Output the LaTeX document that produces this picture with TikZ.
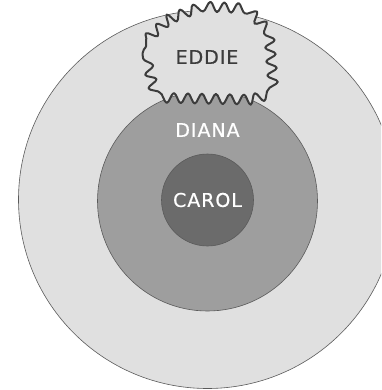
\documentclass[tikz,border=0pt]{standalone}
\usepackage{fontspec}
\setmainfont{DejaVu Sans}
\newfontfamily\labelfont[LetterSpace=5,FakeBold=0.6]{DejaVu Sans}
\usetikzlibrary{decorations.pathmorphing}
\definecolor{outerfill}{HTML}{E0E0E0}
\definecolor{midfill}{HTML}{9E9E9E}
\definecolor{innerfill}{HTML}{6B6B6B}
\definecolor{rimline}{HTML}{5A5A5A}
\definecolor{inkdark}{HTML}{3C3C3C}
\begin{document}
\begin{tikzpicture}[x=1pt,y=-1pt,
  ring/.style={circle, draw=rimline, line width=0.6pt, inner sep=0pt},
  label/.style={font=\labelfont\fontsize{19}{19}\selectfont, inner sep=0pt},
  cloudline/.style={draw=inkdark, fill=outerfill, line width=2pt, line join=round,
    decorate, decoration={snake, amplitude=5pt, segment length=14pt}}]
\useasboundingbox (0,0) rectangle (381,390);
\clip (0,0) rectangle (381,390);
% concentric circles
\node[ring, fill=outerfill, minimum size=378pt] (outer) at (207.5,199.5) {};
\node[ring, fill=midfill, minimum size=220pt] (middle) at (207.5,201) {};
\node[ring, fill=innerfill, minimum size=92pt, label, text=white] (carol) at (207.5,200) {CAROL};
\node[label, text=white] (diana) at (207.5,130) {DIANA};
% wavy cloud on top
\path[cloudline] (146,40) -- (166,22) -- (200,9) -- (244,11) -- (262,30) -- (266,84)
  -- (244,90) -- (152,88) -- (146,64) -- cycle;
\node[label, text=inkdark] (eddie) at (207,57) {EDDIE};
\end{tikzpicture}
\end{document}
